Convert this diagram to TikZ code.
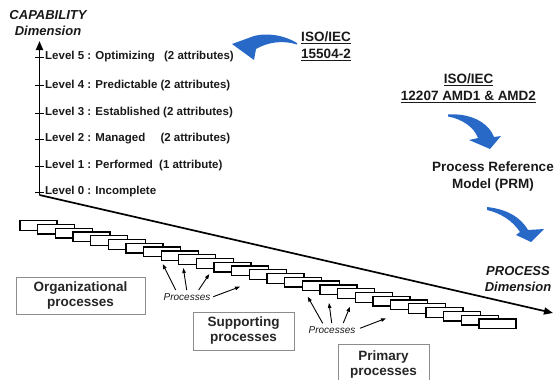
\documentclass[tikz,border=0pt]{standalone}
\usepackage{fontspec}
\setmainfont{Liberation Sans}
\usetikzlibrary{arrows.meta}
\definecolor{arrowblue}{RGB}{40,105,200}
\definecolor{txt}{RGB}{25,25,25}
\begin{document}
\begin{tikzpicture}[x=1pt,y=-1pt,
  lvl/.style={anchor=west, font=\fontsize{11.5}{13}\selectfont\bfseries, text=txt, inner sep=0pt},
  big/.style={font=\fontsize{13.5}{17}\selectfont\bfseries, text=txt, align=center, inner sep=0pt},
  dimlabel/.style={font=\fontsize{13}{16}\selectfont\bfseries\itshape, text=txt, align=center, inner sep=0pt},
  procbox/.style={draw=black!45, line width=0.9pt, fill=white, font=\fontsize{13.5}{15}\selectfont\bfseries, text=black!85, align=center, inner sep=0pt},
  stair/.style={draw=black, line width=1.3pt, fill=white, minimum width=37pt, minimum height=9.7pt, anchor=north west, inner sep=0pt},
  axis/.style={line width=1.7pt, -{Triangle[length=9pt,width=7pt]}},
  small/.style={font=\fontsize{10}{12}\selectfont\itshape, text=txt, inner sep=0pt},
  parrow/.style={line width=0.9pt, -{Triangle[length=5pt,width=3.5pt]}},
  tick/.style={line width=1pt},
  bluearrow/.style={fill=arrowblue, draw=none}
]
\useasboundingbox (0,0) rectangle (554,380);

% axes
\coordinate (O) at (39.5,195);
\coordinate (Ytop) at (39.5,41);
\coordinate (Xend) at (553,313);
\draw[axis] (O) -- (Ytop);
\draw[axis] (O) -- (Xend);

% ticks and level labels
\foreach \n/\y in {5/57,4/85.5,3/113,2/139,1/166,0/192}{
  \coordinate (tl\n) at (35,\y);
  \coordinate (tr\n) at (44,\y);
  \draw[tick] (tl\n) -- (tr\n);
}
\node[lvl] (l5) at (45,57) {Level 5 : Optimizing\hspace{6pt} (2 attributes)};
\node[lvl] (l4) at (45,85.5) {Level 4 : Predictable (2 attributes)};
\node[lvl] (l3) at (45,113) {Level 3 : Established (2 attributes)};
\node[lvl] (l2) at (45,139) {Level 2 : Managed\hspace{12pt} (2 attributes)};
\node[lvl] (l1) at (45,166) {Level 1 : Performed\hspace{3pt} (1 attribute)};
\node[lvl] (l0) at (45,192) {Level 0 : Incomplete};

% axis titles
\node[dimlabel] (cap) at (48,23.5) {CAPABILITY\\Dimension};
\node[dimlabel] (proc) at (518,279.5) {PROCESS\\Dimension};

% standards
\node[big] (iso1) at (326,46.5) {\underline{ISO/IEC}\\\underline{15504-2}};
\node[big] (iso2) at (468.5,88.5) {\underline{ISO/IEC}\\\underline{12207 AMD1 \& AMD2}};
\node[big] (prm) at (493,176.5) {Process Reference\\Model (PRM)};

% blue curved arrows
\path[bluearrow] (297,43) .. controls (282,34) and (265,33) .. (254,36)
  -- (232,44) -- (254,60) -- (256,49)
  .. controls (268,42) and (283,40) .. (297,44.5) -- cycle;
\path[bluearrow] (448,114.5) .. controls (470,113) and (488,122) .. (494,137)
  -- (501,136) -- (490,149) -- (469,140) -- (478,138)
  .. controls (474,127) and (462,119) .. (448,116.5) -- cycle;
\path[bluearrow] (487,207) .. controls (505,209) and (520,216) .. (528,230)
  -- (544,229) -- (531,242) -- (516,235) -- (520,232)
  .. controls (512,220) and (500,213) .. (487,210) -- cycle;

% staircase of processes
\foreach \i in {0,...,26}{
  \node[stair] (s\i) at ({19.3+17.65*\i},{220+3.78*\i}) {};
}

% category boxes
\node[procbox, minimum width=129pt, minimum height=37pt] (org) at (80.5,295.5) {Organizational\\processes};
\node[procbox, minimum width=101pt, minimum height=38pt] (sup) at (243.5,331) {Supporting\\processes};
\node[procbox, minimum width=91pt, minimum height=41pt] (pri) at (383.5,364.5) {Primary\\processes};

% Processes labels and arrows
\node[small] (p1) at (187,297) {Processes};
\coordinate (a1t) at (175.7,290); \coordinate (a1h) at (162.7,264);
\coordinate (a2t) at (186.7,290); \coordinate (a2h) at (183.3,268);
\coordinate (a3t) at (198.7,290); \coordinate (a3h) at (209.3,274);
\coordinate (a4t) at (213.3,296.7); \coordinate (a4h) at (240,286.7);
\foreach \k in {1,2,3,4}{\draw[parrow] (a\k t) -- (a\k h);}

\node[small] (p2) at (332,330) {Processes};
\coordinate (b1t) at (322.7,323.3); \coordinate (b1h) at (307.7,296.7);
\coordinate (b2t) at (331.7,323); \coordinate (b2h) at (329,303);
\coordinate (b3t) at (343.3,323); \coordinate (b3h) at (350,306.7);
\coordinate (b4t) at (360,328.3); \coordinate (b4h) at (386,318.3);
\foreach \k in {1,2,3,4}{\draw[parrow] (b\k t) -- (b\k h);}
\end{tikzpicture}
\end{document}
